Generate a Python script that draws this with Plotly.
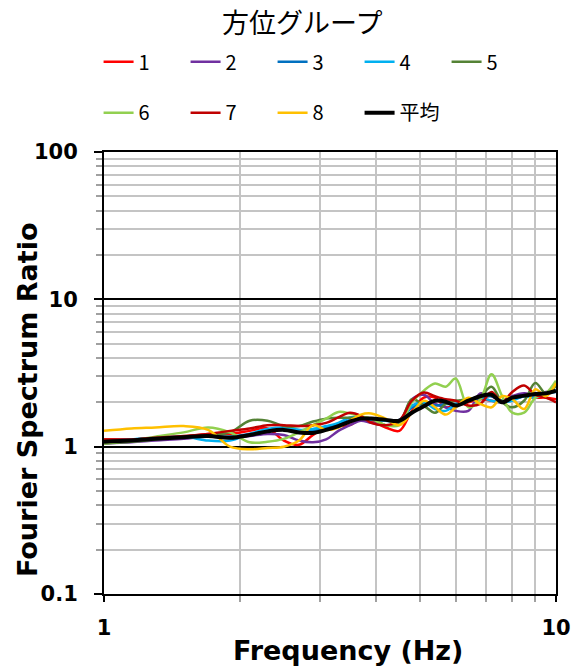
import plotly.graph_objects as go

freq = [1.0, 1.15, 1.3, 1.5, 1.7, 1.9, 2.1, 2.3, 2.5, 2.7, 2.9, 3.1, 3.3, 3.5, 3.7, 3.9,
        4.2, 4.5, 4.8, 5.1, 5.4, 5.7, 6.0, 6.4, 6.8, 7.2, 7.6, 8.0, 8.5, 9.0, 9.5, 10.0]

g1 = [1.12, 1.12, 1.13, 1.17, 1.22, 1.22, 1.28, 1.33, 1.10, 1.03, 1.20, 1.35, 1.38, 1.40, 1.55, 1.50,
      1.35, 1.28, 1.75, 2.15, 2.15, 1.85, 1.90, 2.00, 2.10, 2.05, 2.00, 2.10, 2.20, 2.15, 2.15, 2.10]
g2 = [1.05, 1.07, 1.10, 1.13, 1.17, 1.15, 1.18, 1.22, 1.20, 1.10, 1.07, 1.12, 1.28, 1.40, 1.50, 1.45,
      1.40, 1.45, 2.10, 2.25, 1.95, 1.85, 1.75, 1.75, 2.30, 2.20, 2.05, 2.20, 2.30, 2.25, 2.35, 2.40]
g3 = [1.10, 1.12, 1.14, 1.16, 1.18, 1.17, 1.22, 1.28, 1.32, 1.30, 1.28, 1.35, 1.42, 1.52, 1.55, 1.55,
      1.50, 1.52, 1.85, 1.95, 1.90, 1.95, 1.95, 2.05, 2.15, 2.20, 2.05, 2.10, 2.20, 2.25, 2.30, 2.35]
g4 = [1.10, 1.12, 1.15, 1.17, 1.10, 1.10, 1.22, 1.32, 1.35, 1.30, 1.32, 1.38, 1.45, 1.58, 1.58, 1.52,
      1.50, 1.48, 1.90, 2.00, 1.80, 1.75, 1.95, 2.10, 2.15, 2.05, 2.00, 2.05, 2.20, 2.15, 2.30, 2.40]
g5 = [1.05, 1.08, 1.12, 1.17, 1.20, 1.25, 1.50, 1.50, 1.38, 1.38, 1.48, 1.55, 1.57, 1.57, 1.57, 1.55,
      1.40, 1.45, 2.10, 1.90, 1.70, 1.95, 2.05, 2.10, 2.20, 2.55, 2.00, 1.85, 2.05, 2.70, 2.30, 2.60]
g6 = [1.05, 1.10, 1.17, 1.25, 1.35, 1.25, 1.07, 1.08, 1.13, 1.25, 1.40, 1.55, 1.72, 1.68, 1.60, 1.55,
      1.40, 1.40, 2.00, 2.40, 2.68, 2.55, 2.90, 1.85, 2.10, 3.10, 2.20, 1.70, 1.70, 2.15, 2.30, 2.80]
g7 = [1.12, 1.12, 1.15, 1.18, 1.22, 1.28, 1.33, 1.40, 1.40, 1.38, 1.40, 1.45, 1.58, 1.70, 1.62, 1.45,
      1.40, 1.50, 2.05, 2.33, 2.20, 2.10, 2.05, 1.90, 1.95, 2.35, 2.00, 2.35, 2.60, 2.25, 2.15, 2.00]
g8 = [1.28, 1.33, 1.35, 1.38, 1.30, 1.00, 0.96, 0.98, 1.00, 1.10, 1.40, 1.30, 1.35, 1.50, 1.65, 1.68,
      1.55, 1.40, 1.70, 2.05, 1.85, 1.65, 1.85, 2.15, 1.95, 1.85, 2.20, 2.10, 1.80, 2.45, 2.20, 2.70]
mean = [1.08, 1.10, 1.13, 1.16, 1.18, 1.15, 1.20, 1.27, 1.30, 1.25, 1.24, 1.30, 1.38, 1.48, 1.55, 1.55,
        1.52, 1.50, 1.70, 1.88, 2.05, 2.02, 1.90, 2.05, 2.20, 2.25, 2.00, 2.15, 2.22, 2.28, 2.30, 2.40]

group_names = ["1", "2", "3", "4", "5", "6", "7", "8"]
group_values = [g1, g2, g3, g4, g5, g6, g7, g8]
group_colors = ["#FF0000", "#7030A0", "#0070C0", "#00B0F0", "#548235", "#92D050", "#C00000", "#FFC000"]
mean_name = "平均"
legend_title = "方位グループ"
x_title = "Frequency (Hz)"
y_title = "Fourier Spectrum Ratio"

y_ticks = [0.1, 1, 10, 100]
y_ticktext = ["0.1", "1", "10", "100"]
x_ticks = [1, 10]
x_ticktext = ["1", "10"]
x_minor = [2, 3, 4, 5, 6, 7, 8, 9]
y_minor = [0.2, 0.3, 0.4, 0.5, 0.6, 0.7, 0.8, 0.9, 2, 3, 4, 5, 6, 7, 8, 9,
           20, 30, 40, 50, 60, 70, 80, 90]

fig = go.Figure()
for i, (name, vals, col) in enumerate(zip(group_names, group_values, group_colors)):
    fig.add_trace(go.Scatter(
        x=freq, y=vals, name=name, mode="lines",
        line=dict(color=col, width=2.5, shape="spline", smoothing=1.0),
        legend="legend" if i < 5 else "legend2",
    ))
fig.add_trace(go.Scatter(
    x=freq, y=mean, name=mean_name, mode="lines",
    line=dict(color="black", width=4, shape="spline", smoothing=1.0),
    legend="legend2",
))

tickfont = dict(family="DejaVu Sans", size=21, color="black", weight="bold")
titlefont = dict(family="DejaVu Sans", size=27, color="black", weight="bold")
legfont = dict(family="Noto Sans CJK JP", size=20, color="black")

fig.update_layout(
    width=573, height=667,
    margin=dict(l=104, r=17, t=152, b=73, autoexpand=False),
    plot_bgcolor="white", paper_bgcolor="white",
    xaxis=dict(
        type="log", range=[0, 1],
        tickmode="array", tickvals=x_ticks, ticktext=x_ticktext,
        ticks="outside", ticklen=6, tickwidth=2, tickcolor="black",
        ticklabelstandoff=8,
        showline=True, linecolor="black", linewidth=2, mirror=True,
        showgrid=True, gridcolor="black", gridwidth=2,
        minor=dict(tickmode="array", tickvals=x_minor, ticks="outside", ticklen=6,
                   tickwidth=1.5, tickcolor="#A0A0A0", showgrid=True,
                   gridcolor="#C4C4C4", gridwidth=2),
        tickfont=tickfont,
        zeroline=False,
    ),
    yaxis=dict(
        type="log", range=[-1, 2],
        tickmode="array", tickvals=y_ticks, ticktext=y_ticktext,
        ticks="outside", ticklen=8, tickwidth=2, tickcolor="black",
        ticklabelstandoff=12,
        showline=True, linecolor="black", linewidth=2, mirror=True,
        showgrid=True, gridcolor="black", gridwidth=2,
        minor=dict(tickmode="array", tickvals=y_minor, ticks="outside", ticklen=6,
                   tickwidth=1.5, tickcolor="#A0A0A0", showgrid=True,
                   gridcolor="#C4C4C4", gridwidth=1.5),
        tickfont=tickfont,
        zeroline=False,
    ),
    legend=dict(orientation="h", x=-0.012, y=1.204, xanchor="left", yanchor="middle",
                entrywidth=42, entrywidthmode="pixels", font=legfont,
                bgcolor="rgba(0,0,0,0)"),
    legend2=dict(orientation="h", x=-0.012, y=1.089, xanchor="left", yanchor="middle",
                 entrywidth=42, entrywidthmode="pixels", font=legfont,
                 bgcolor="rgba(0,0,0,0)"),
    annotations=[
        dict(text=legend_title, xref="paper", yref="paper", x=0.438, y=1.295,
             xanchor="center", yanchor="middle", showarrow=False,
             font=dict(family="Noto Sans CJK JP", size=27, color="black")),
        dict(text=y_title, xref="paper", yref="paper", x=-0.168, y=0.439,
             xanchor="center", yanchor="middle", textangle=-90, showarrow=False,
             font=titlefont),
        dict(text=x_title, xref="paper", yref="paper", x=0.54, y=-0.127,
             xanchor="center", yanchor="middle", showarrow=False,
             font=titlefont),
    ],
    showlegend=True,
)

fig.write_html("out.html", config={"displayModeBar": False},
               post_script="document.body.style.margin='0';")
